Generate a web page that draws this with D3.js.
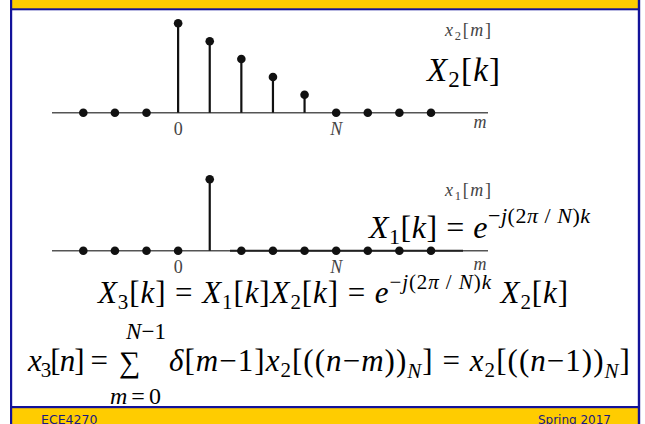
<!DOCTYPE html>
<html><head><meta charset="utf-8">
<style>body{margin:0;background:#fff}svg{display:block}</style>
</head><body>
<svg id="chart" width="645" height="424" xmlns="http://www.w3.org/2000/svg">
<g id="frame"></g>
<g id="plots"></g>
<g id="labels" font-family="Liberation Serif">
  <text class="tick top" y="135" font-size="18" fill="#444" text-anchor="middle">0</text>
  <text class="tick top" y="135" font-size="18" fill="#444" text-anchor="middle" font-style="italic">N</text>
  <text class="tick bot" y="273" font-size="18" fill="#444" text-anchor="middle">0</text>
  <text class="tick bot" y="273" font-size="18" fill="#444" text-anchor="middle" font-style="italic">N</text>
  <text class="axm top" y="128" font-size="18" fill="#444" text-anchor="middle" font-style="italic">m</text>
  <text class="axm bot" y="269.5" font-size="18" fill="#444" text-anchor="middle" font-style="italic">m</text>

  <text x="445" y="35.5" font-size="18" fill="#444" textLength="46" lengthAdjust="spacing"><tspan font-style="italic">x</tspan><tspan font-size="12.5" dy="4">2</tspan><tspan dy="-4">[</tspan><tspan font-style="italic">m</tspan>]</text>
  <text x="445" y="195.5" font-size="18" fill="#444" textLength="46" lengthAdjust="spacing"><tspan font-style="italic">x</tspan><tspan font-size="12.5" dy="4">1</tspan><tspan dy="-4">[</tspan><tspan font-style="italic">m</tspan>]</text>

  <text transform="translate(427,80.5) scale(1.75)" font-size="18.86" fill="#000" textLength="41.7" lengthAdjust="spacing"><tspan font-style="italic">X</tspan><tspan font-size="13.14" dy="3.43">2</tspan><tspan dy="-3.43">[</tspan><tspan font-style="italic">k</tspan>]</text>

  <text transform="translate(369,237.5) scale(1.75)" font-size="18.29" fill="#000" textLength="126.3" lengthAdjust="spacing"><tspan font-style="italic">X</tspan><tspan font-size="12.57" dy="3.43">1</tspan><tspan dy="-3.43">[</tspan><tspan font-style="italic">k</tspan><tspan>] = </tspan><tspan font-style="italic">e</tspan><tspan font-size="12.57" dy="-8.57">−</tspan><tspan font-size="12.57" font-style="italic">j</tspan><tspan font-size="12.57">(2</tspan><tspan font-size="12.57" font-style="italic">π</tspan><tspan font-size="12.57"> / </tspan><tspan font-size="12.57" font-style="italic">N</tspan><tspan font-size="12.57">)</tspan><tspan font-size="12.57" font-style="italic">k</tspan></text>

  <text transform="translate(98,303) scale(1.75)" font-size="17.71" fill="#000" textLength="268.6" lengthAdjust="spacing"><tspan font-style="italic">X</tspan><tspan font-size="12" dy="3.43">3</tspan><tspan dy="-3.43">[</tspan><tspan font-style="italic">k</tspan><tspan>] = </tspan><tspan font-style="italic">X</tspan><tspan font-size="12" dy="3.43">1</tspan><tspan dy="-3.43">[</tspan><tspan font-style="italic">k</tspan><tspan>]</tspan><tspan font-style="italic">X</tspan><tspan font-size="12" dy="3.43">2</tspan><tspan dy="-3.43">[</tspan><tspan font-style="italic">k</tspan><tspan>] = </tspan><tspan font-style="italic">e</tspan><tspan font-size="12" dy="-8">−</tspan><tspan font-size="12" font-style="italic">j</tspan><tspan font-size="12">(2</tspan><tspan font-size="12" font-style="italic">π</tspan><tspan font-size="12"> / </tspan><tspan font-size="12" font-style="italic">N</tspan><tspan font-size="12">)</tspan><tspan font-size="12" font-style="italic">k</tspan><tspan dy="8"> </tspan><tspan font-style="italic">X</tspan><tspan font-size="12" dy="3.43">2</tspan><tspan dy="-3.43">[</tspan><tspan font-style="italic">k</tspan>]</text>

  <text transform="translate(28,371) scale(1.75)" font-size="17.71" fill="#000" textLength="45.7" lengthAdjust="spacing"><tspan font-style="italic">x</tspan><tspan font-size="12" dy="3.43">3</tspan><tspan dy="-3.43">[</tspan><tspan font-style="italic">n</tspan>] =</text>
  <text transform="translate(119,372) scale(1.75)" font-size="17.14" fill="#000">∑</text>
  <text transform="translate(146,339) scale(1.75)" font-size="13.14" fill="#000" text-anchor="middle"><tspan font-style="italic">N</tspan>−1</text>
  <text transform="translate(110,404) scale(1.75)" font-size="13.71" fill="#000" textLength="29.1" lengthAdjust="spacing"><tspan font-style="italic">m</tspan>=0</text>
  <text transform="translate(169,371) scale(1.75)" font-size="17.71" fill="#000" textLength="263.4" lengthAdjust="spacing"><tspan font-style="italic">δ</tspan><tspan>[</tspan><tspan font-style="italic">m</tspan><tspan>−1]</tspan><tspan font-style="italic">x</tspan><tspan font-size="12" dy="3.43">2</tspan><tspan dy="-3.43">[((</tspan><tspan font-style="italic">n</tspan><tspan>−</tspan><tspan font-style="italic">m</tspan><tspan>))</tspan><tspan font-size="12" font-style="italic" dy="4">N</tspan><tspan dy="-4">] = </tspan><tspan font-style="italic">x</tspan><tspan font-size="12" dy="3.43">2</tspan><tspan dy="-3.43">[((</tspan><tspan font-style="italic">n</tspan><tspan>−1))</tspan><tspan font-size="12" font-style="italic" dy="4">N</tspan><tspan dy="-4">]</tspan></text>
</g>
<g id="footer" font-family="DejaVu Sans" fill="#1a1a80">
  <text x="41" y="423.5" font-size="12.5">ECE4270</text>
  <text x="611" y="423.5" font-size="12" text-anchor="end">Spring 2017</text>
</g>
</svg>
<script src="https://cdn.jsdelivr.net/npm/d3@7"></script>
<script>
// ---- data ----
const mValues  = [-3,-2,-1,0,1,2,3,4,5,6,7,8];
const x2Values = [0,0,0,5,4,3,2,1,0,0,0,0];
const x1Values = [0,0,0,0,4,0,0,0,0,0,0,0];
const tickMs = [0,5];
const tickLabels = ["0","N"];
const axisLabelM = 9.55;

const W = 645, H = 424;
const svg = d3.select("#chart");

// ---- frame ----
const GOLD = "#FFCC00", BLUE = "#12129A";
const fr = svg.select("#frame");
fr.append("rect").attr("x",0).attr("y",0).attr("width",W).attr("height",H).attr("fill","#fff");
fr.append("rect").attr("x",11).attr("y",0).attr("width",628).attr("height",9).attr("fill",GOLD);
fr.append("rect").attr("x",11).attr("y",407).attr("width",628).attr("height",17).attr("fill",GOLD);
fr.append("rect").attr("x",10).attr("y",8.3).attr("width",630).attr("height",2).attr("fill",BLUE);
fr.append("rect").attr("x",10).attr("y",406).attr("width",630).attr("height",2.2).attr("fill",BLUE);
fr.append("rect").attr("x",10).attr("y",0).attr("width",2.2).attr("height",H).attr("fill",BLUE);
fr.append("rect").attr("x",637.8).attr("y",0).attr("width",2.4).attr("height",H).attr("fill",BLUE);

// ---- scales ----
const x = d3.scaleLinear().domain([-3, 8]).range([83.3, 431]);
const yTop = d3.scaleLinear().domain([0, 5]).range([112.7, 23.3]);
const yBot = d3.scaleLinear().domain([0, 5]).range([250.7, 161.3]);

function stemPlot(vals, y) {
  const g = svg.select("#plots").append("g");
  g.append("line").attr("x1",52).attr("x2",488).attr("y1",y(0)).attr("y2",y(0))
    .attr("stroke","#555").attr("stroke-width",1.5);
  const data = mValues.map((m,i)=>({m, v: vals[i]}));
  g.selectAll("line.stem").data(data.filter(d=>d.v!==0)).join("line").attr("class","stem")
    .attr("x1",d=>x(d.m)).attr("x2",d=>x(d.m)).attr("y1",y(0)).attr("y2",d=>y(d.v))
    .attr("stroke","#111").attr("stroke-width",2.2);
  g.selectAll("circle").data(data).join("circle")
    .attr("cx",d=>x(d.m)).attr("cy",d=>y(d.v)).attr("r",4.3).attr("fill","#111");
  return g;
}
stemPlot(x2Values, yTop);
const gb = stemPlot(x1Values, yBot);
gb.insert("line","circle").attr("x1",230).attr("x2",463).attr("y1",yBot(0)).attr("y2",yBot(0))
  .attr("stroke","#222").attr("stroke-width",2);

["top","bot"].forEach(p => {
  svg.selectAll("text.tick." + p).data(tickMs).attr("x", d => x(d)).text((d,i) => tickLabels[i]);
  svg.selectAll("text.axm." + p).attr("x", x(axisLabelM));
});
</script>
</body></html>
